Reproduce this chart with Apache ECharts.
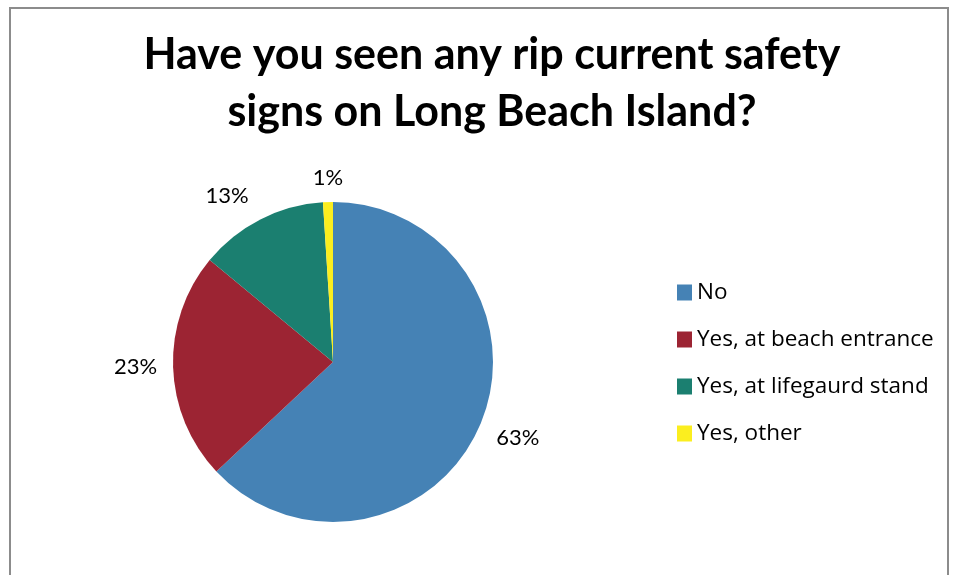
<!DOCTYPE html>
<html>
<head>
<meta charset="utf-8">
<script src="https://cdn.jsdelivr.net/npm/echarts@6/dist/echarts.min.js"></script>
<style>
  html, body { margin: 0; padding: 0; background: #fff; }
  #chart { width: 962px; height: 575px; }
</style>
</head>
<body>
<div id="chart"></div>
<script>
const categories = ['No', 'Yes, at beach entrance', 'Yes, at lifegaurd stand', 'Yes, other'];
const shares = [63, 23, 13, 1];
const colors = ['#4582b5', '#9c2433', '#1b7f70', '#fbee1f'];

// per-slice label placement (Excel "best fit" look)
const labelLines = [
  { length: 31, length2: -17, padTop: 0 },
  { length: 10, length2: 1, padTop: 24 },
  { length: 26, length2: -5, padTop: 0 },
  { length: 24, length2: -21, padTop: 0 },
];

const chart = echarts.init(document.getElementById('chart'));

const option = {
  animation: false,
  backgroundColor: '#fff',
  color: colors,
  title: {
    text: 'Have you seen any rip current safety\nsigns on Long Beach Island?',
    left: 487,
    textAlign: 'center',
    top: 22,
    textStyle: {
      fontFamily: 'Lato',
      fontWeight: 'bold',
      fontSize: 43,
      lineHeight: 57,
      color: '#000',
    },
  },
  graphic: [
    {
      type: 'rect',
      shape: { x: 10, y: 8, width: 938, height: 600 },
      style: { fill: 'none', stroke: '#8c8c8c', lineWidth: 2 },
      silent: true,
    },
  ],
  legend: {
    orient: 'vertical',
    left: 672,
    top: 276,
    itemWidth: 15,
    itemHeight: 16,
    itemGap: 24,
    icon: 'rect',
    textStyle: {
      fontFamily: 'Open Sans',
      fontSize: 22.5,
      color: '#000',
    },
    data: categories,
  },
  series: [
    {
      type: 'pie',
      center: [333, 362],
      radius: [0, 160],
      startAngle: 90,
      clockwise: true,
      avoidLabelOverlap: false,
      label: {
        show: true,
        position: 'outside',
        formatter: '{d}%',
        fontFamily: 'Lato',
        fontSize: 22,
        color: '#000',
      },
      labelLine: { show: false },
      itemStyle: { borderWidth: 0 },
      emphasis: { disabled: true },
      data: categories.map((name, i) => ({
        name,
        value: shares[i],
        label: { padding: [labelLines[i].padTop, 0, 0, 0] },
        labelLine: { show: false, length: labelLines[i].length, length2: labelLines[i].length2 },
      })),
    },
  ],
};

chart.setOption(option);
</script>
</body>
</html>
